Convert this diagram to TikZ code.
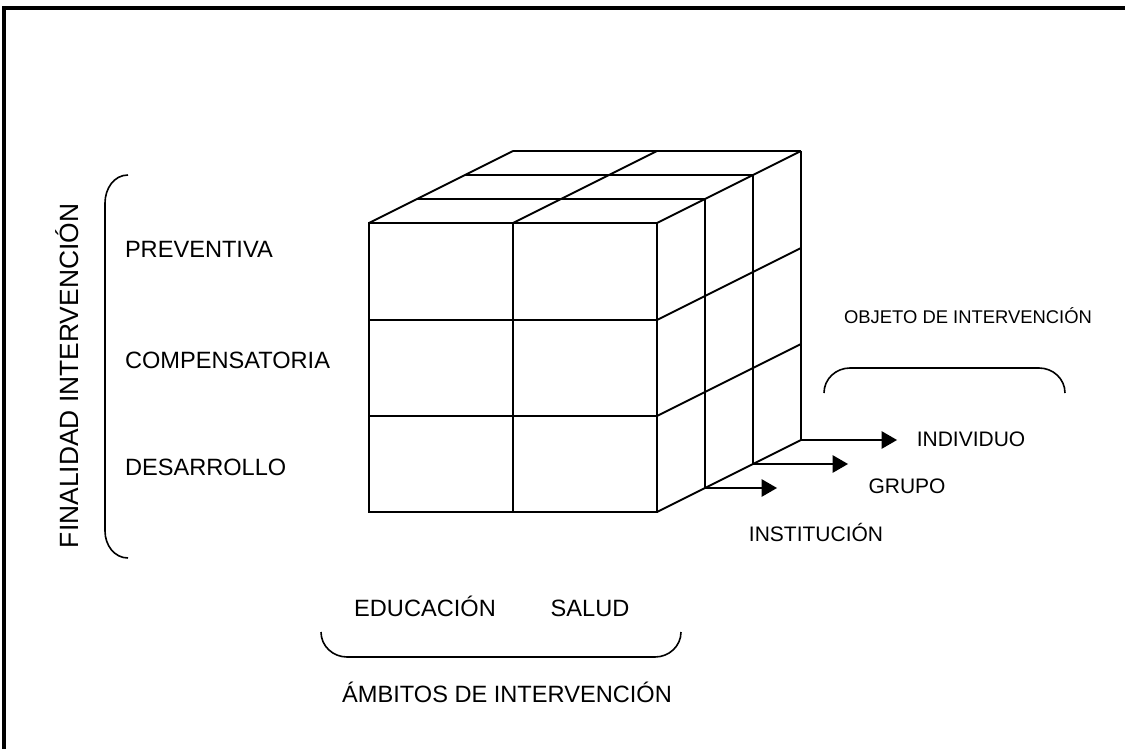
\documentclass[tikz,border=0pt]{standalone}
\usepackage{fontspec}
\setmainfont{Liberation Sans}
\usetikzlibrary{positioning,arrows}

\begin{document}
\begin{tikzpicture}[x=0.5pt,y=-0.5pt,line width=1pt,
  lbl/.style={anchor=base,inner sep=0pt,font=\fontsize{11.8}{14}\selectfont},
  sml/.style={anchor=base,inner sep=0pt,font=\fontsize{10.5}{12}\selectfont},
  brk/.style={line width=0.8pt},
  arr/.style={-triangle 60,line width=1.1pt}]
  \useasboundingbox (0,0) rectangle (1125,749);
  \draw[line width=1.6pt] (4,749) |- (1125,8);

  % cube, front face
  \draw (369,223) rectangle (657,512);
  \draw (513,223) -- (513,512);
  \draw (369,320) -- (657,320);
  \draw (369,416) -- (657,416);
  % top face
  \draw (417,199) -- (705,199);
  \draw (465,175) -- (753,175);
  \draw (513,151) -- (801,151);
  \draw (369,223) -- (513,151);
  \draw (513,223) -- (657,151);
  \draw (657,223) -- (801,151);
  % side face
  \draw (705,199) -- (705,488);
  \draw (753,175) -- (753,464);
  \draw (801,151) -- (801,440);
  \draw (657,320) -- (801,248);
  \draw (657,416) -- (801,344);
  \draw (657,512) -- (801,440);

  \node[lbl,anchor=base west] (prev) at (124,257) {PREVENTIVA};
  \node[lbl,anchor=base west] (comp) at (124,368) {COMPENSATORIA};
  \node[lbl,anchor=base west] (desa) at (124,475) {DESARROLLO};
  \node[lbl,rotate=90,font=\fontsize{13.2}{15}\selectfont] (fin) at (78,376) {FINALIDAD INTERVENCIÓN};
  \draw[brk] (128,175) to[out=180,in=90] (105,203) -- (105,531) to[out=-90,in=180] (128,558);

  \node[lbl] (edu) at (425,616) {EDUCACIÓN};
  \node[lbl] (sal) at (590,616) {SALUD};
  \draw[brk] (321,632) to[out=-90,in=180] (347,657) -- (655,657) to[out=0,in=-90] (681,632);
  \node[lbl] (amb) at (507,702) {ÁMBITOS DE INTERVENCIÓN};

  \node[sml,font=\fontsize{9.2}{11}\selectfont] (obj) at (968,323) {OBJETO DE INTERVENCIÓN};
  \draw[brk] (824,393) to[out=90,in=180] (850,368) -- (1039,368) to[out=0,in=90] (1065,393);

  \coordinate (r1) at (801,440);
  \coordinate (r2) at (753,464);
  \coordinate (r3) at (705,488);
  \coordinate (e1) at (897,440);
  \coordinate (e2) at (848,464);
  \coordinate (e3) at (777,488);
  \draw[arr] (r1) -- (e1);
  \draw[arr] (r2) -- (e2);
  \draw[arr] (r3) -- (e3);
  \node[sml] (ind) at (971,446) {INDIVIDUO};
  \node[sml] (gru) at (907,493) {GRUPO};
  \node[sml] (ins) at (816,541) {INSTITUCIÓN};
\end{tikzpicture}
\end{document}
